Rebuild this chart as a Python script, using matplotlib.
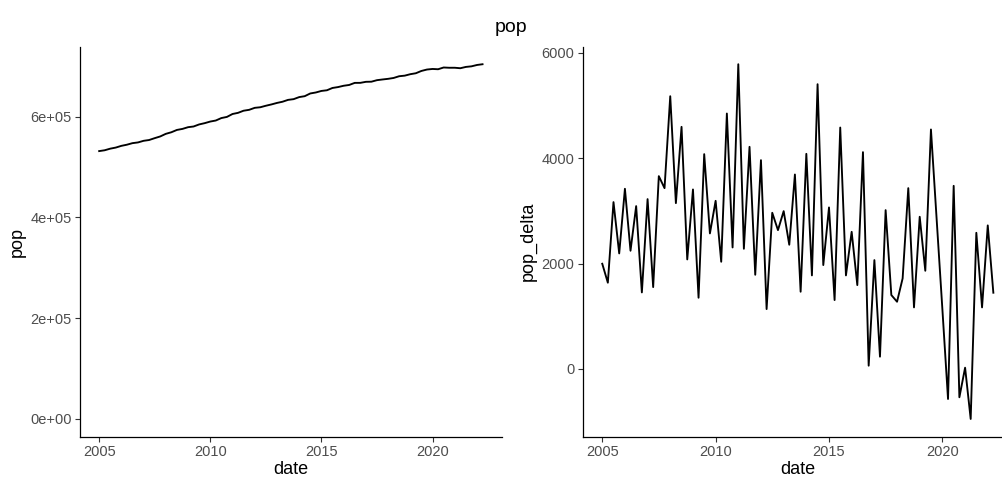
import datetime as dt

import matplotlib
matplotlib.use("Agg")
import matplotlib.pyplot as plt
import matplotlib.dates as mdates
from matplotlib.ticker import FuncFormatter, MultipleLocator

plt.rcParams["font.family"] = ["Liberation Sans", "DejaVu Sans"]

# Quarterly series, 2005 Q1 .. 2022 Q2
first_year = 2005
pop = [
    531700, 533337, 536503, 538696, 542115, 544358, 547448, 548901, 552124, 553678,
    557337, 560768, 565943, 569090, 573684, 575763, 579169, 580521, 584597, 587169,
    590360, 592395, 597242, 599548, 605330, 607611, 611826, 613614, 617576, 618713,
    621677, 624312, 627307, 629664, 633354, 634820, 638902, 640678, 646081, 648053,
    651118, 652426, 657007, 658783, 661386, 662978, 667092, 667155, 669221, 669455,
    672469, 673872, 675148, 676867, 680298, 681467, 684355, 686219, 690763, 693601,
    694738, 694169, 697644, 697107, 697132, 696184, 698768, 699937, 702661, 704108,
]
pop_delta = [
    1997, 1637, 3166, 2193, 3419, 2243, 3090, 1453, 3223, 1554,
    3659, 3431, 5175, 3147, 4594, 2079, 3406, 1352, 4076, 2572,
    3191, 2035, 4847, 2306, 5782, 2281, 4215, 1788, 3962, 1137,
    2964, 2635, 2995, 2357, 3690, 1466, 4082, 1776, 5403, 1972,
    3065, 1308, 4581, 1776, 2603, 1592, 4114, 63, 2066, 234,
    3014, 1403, 1276, 1719, 3431, 1169, 2888, 1864, 4544, 2838,
    1137, -569, 3475, -537, 25, -948, 2584, 1169, 2724, 1447,
]

dates = [dt.date(first_year + i // 4, 1 + 3 * (i % 4), 1) for i in range(len(pop))]

W, H = 1002, 478
fig = plt.figure(figsize=(W / 100, H / 100), dpi=100)
fig.patch.set_facecolor("white")

TICK_COLOR = "#4d4d4d"


def style(ax):
    for side in ("top", "right"):
        ax.spines[side].set_visible(False)
    for side in ("left", "bottom"):
        ax.spines[side].set_linewidth(0.9)
        ax.spines[side].set_color("black")
    ax.tick_params(direction="out", length=3.5, width=0.8, color="#333333",
                   labelsize=10.5, labelcolor=TICK_COLOR, pad=2.5)
    ax.xaxis.set_major_locator(mdates.YearLocator(5))
    ax.xaxis.set_major_formatter(mdates.DateFormatter("%Y"))
    ax.set_xlabel("date", fontsize=13, labelpad=1.5)


def px_axes(x0, x1, y0, y1):
    return fig.add_axes([x0 / W, 1 - y1 / H, (x1 - x0) / W, (y1 - y0) / H])


# left panel: population level
ax1 = px_axes(80, 501.7, 46.5, 436.7)
ax1.plot(dates, pop, color="black", lw=1.35)
top = max(pop) * 1.05
ax1.set_ylim(-0.05 * max(pop), top)
ax1.yaxis.set_major_locator(MultipleLocator(200000))
ax1.yaxis.set_major_formatter(FuncFormatter(lambda v, p: f"{v:.0e}"))
ax1.set_ylabel("pop", fontsize=13, labelpad=3.5)
style(ax1)

# right panel: quarterly change
ax2 = px_axes(582.7, 1012.9, 46.5, 436.7)
ax2.plot(dates, pop_delta, color="black", lw=1.35)
ax2.yaxis.set_major_locator(MultipleLocator(2000))
ax2.yaxis.set_major_formatter(FuncFormatter(lambda v, p: f"{v:.0f}"))
ax2.set_ylabel("pop_delta", fontsize=13, labelpad=3.5)
style(ax2)

fig.text(511 / W, 1 - 27 / H, "pop", ha="center", va="center", fontsize=14)

fig.savefig("out.png", dpi=100)
